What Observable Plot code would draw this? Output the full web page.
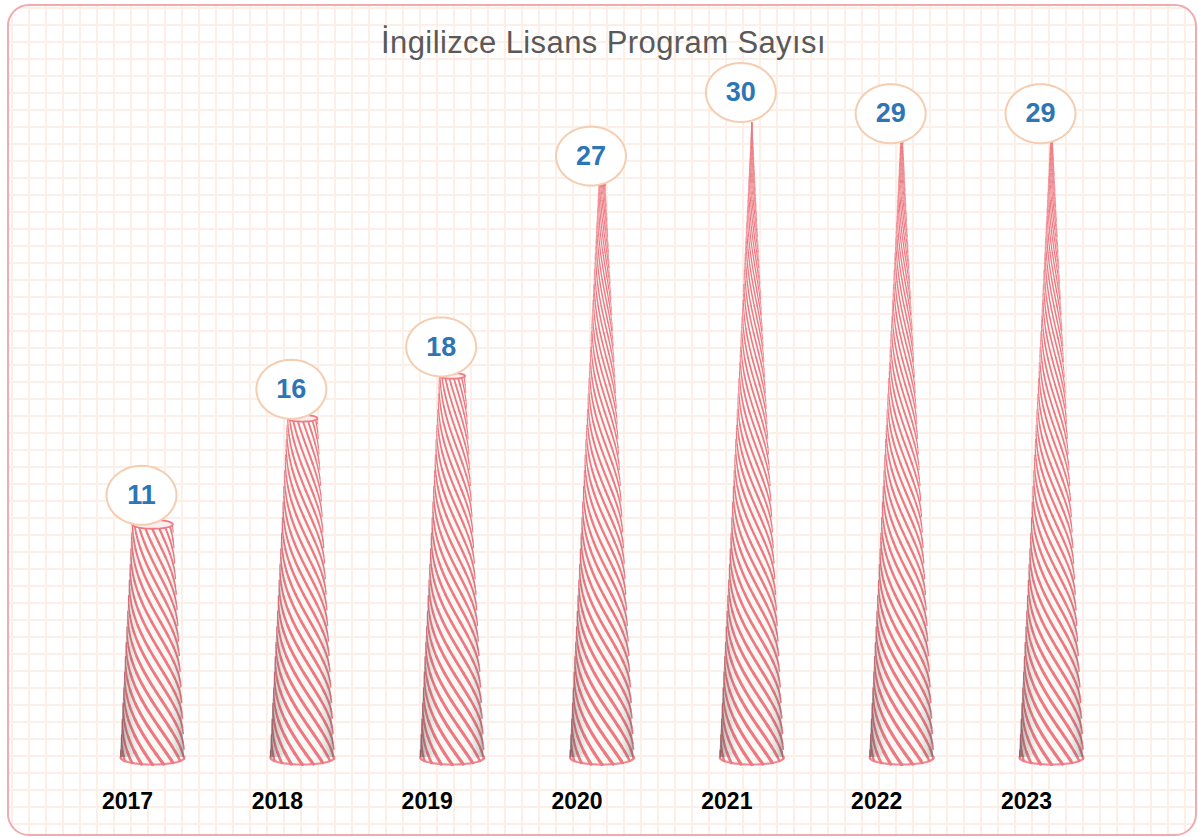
<!DOCTYPE html>
<html><head><meta charset="utf-8">
<script src="https://cdn.jsdelivr.net/npm/d3@7"></script>
<script src="https://cdn.jsdelivr.net/npm/@observablehq/plot@0.6"></script>
<style>
body{margin:0;background:#fff;font-family:"Liberation Sans",Arial,sans-serif;}
#wrap{position:relative;width:1198px;height:837px;overflow:hidden;}
#frame{position:absolute;left:7px;top:4px;width:1190px;height:832px;box-sizing:border-box;border:2px solid #f2aab1;border-radius:22px;
background-color:#fff;
background-image:linear-gradient(to right,#fcefe7 2px,transparent 2px),linear-gradient(to bottom,#fcefe7 2px,transparent 2px);
background-size:17px 17px;background-position:2px 1px;}
#title{position:relative;height:60px;box-sizing:border-box;padding-top:26px;padding-left:9px;text-align:center;font-size:31px;letter-spacing:0.4px;line-height:33px;color:#595959;white-space:nowrap;}
#chart{position:relative;}
</style></head>
<body>
<div id="wrap">
<div id="frame"></div>
<div id="title">İngilizce Lisans Program Sayısı</div>
<div id="chart"></div>
</div>
<script>
const years = [2017, 2018, 2019, 2020, 2021, 2022, 2023];
const values = [11, 16, 18, 27, 30, 29, 29];
const yearLabels = ["2017", "2018", "2019", "2020", "2021", "2022", "2023"];

const xRange = [152, 1051];
const yRange = [697, 61];
const yMax = d3.max(values);
const kx = (xRange[1] - xRange[0]) / (years[years.length - 1] - years[0]);
const ky = (yRange[0] - yRange[1]) / yMax;
const R = 32;                 // base radius, px
const flat = 0.22;            // ellipse flattening
const K = 18;                 // stripes around the cone
const twist = -0.0225;        // radians per px of height

const cone = [], baseEll = [], topEll = [], labelEll = [], stripes = [];
const N = 64;
let seg = 0;
years.forEach((yr, i) => {
  const v = values[i];
  const hPx = v * ky;
  const topR = R * (1 - v / yMax);
  cone.push({year: yr, y: 0, x1: yr - R / kx, x2: yr + R / kx});
  cone.push({year: yr, y: v, x1: yr - topR / kx, x2: yr + topR / kx});
  for (let k = 0; k < N; k++) {
    const t = 2 * Math.PI * k / N;
    baseEll.push({year: yr, x: yr + (R / kx) * Math.cos(t), y: -(R * flat / ky) * Math.sin(t)});
    if (topR > 0.05) topEll.push({year: yr, x: yr + (topR / kx) * Math.cos(t), y: v - (topR * flat / ky) * Math.sin(t)});
    labelEll.push({year: yr, x: yr + (35 / kx) * Math.cos(t), y: v + (29.5 / ky) * Math.sin(t)});
  }
  // helical stripes projected onto the visible (front) half of each cone
  for (let s = 0; s < K; s++) {
    let prev = null, prevKey = null;
    for (let h = 0; h <= hPx; h += 1.2) {
      const r = R * (1 - h / (yMax * ky));
      const phi = 2 * Math.PI * s / K + twist * h;
      const c = Math.cos(phi);
      if (c < 0) { prev = null; prevKey = null; continue; }
      const wBase = Math.max(0.6, 0.8 + 2.6 * r / R);
      const q = Math.min(4, Math.floor(c * 5));
      const w = +(wBase * (0.4 + 0.6 * (q + 0.5) / 5)).toFixed(1);
      const pt = {x: yr + r * Math.sin(phi) / kx, y: (h - flat * r * c) / ky};
      const key = w;
      if (prevKey === null || key !== prevKey) {
        seg++;
        if (prev) stripes.push({seg, w, x: prev.x, y: prev.y});
      }
      stripes.push({seg, w, x: pt.x, y: pt.y});
      prev = pt; prevKey = key;
    }
  }
});

const chart = Plot.plot({
  width: 1198,
  height: 777,
  x: {type: "linear", domain: [years[0], years[years.length - 1]], range: xRange, axis: null},
  y: {domain: [0, yMax], range: yRange, axis: null},
  style: {background: "transparent", overflow: "visible", fontFamily: "Liberation Sans, Arial, sans-serif"},
  marks: [
    Plot.line(baseEll, {x: "x", y: "y", z: "year", curve: "linear-closed", fill: "#f8f9f5", stroke: "#f08a92", strokeWidth: 2.2}),
    Plot.areaX(cone, {y: "y", x1: "x1", x2: "x2", z: "year", curve: "linear", fill: "#f8f9f5"}),
    Plot.line(stripes, {x: "x", y: "y", z: "seg", stroke: "#ee7882", strokeWidth: "w", curve: "linear"}),
    Plot.areaX(cone, {y: "y", x1: "x1", x2: "x2", z: "year", curve: "linear", fill: "url(#shade)"}),
    Plot.line(topEll, {x: "x", y: "y", z: "year", curve: "linear-closed", fill: "#fbeff0", stroke: "#ef7a85", strokeWidth: 1.8}),
    Plot.line(labelEll, {x: "x", y: "y", z: "year", curve: "linear-closed", fill: "white", stroke: "#f5cdb0", strokeWidth: 2, dx: -11, dy: -29}),
    Plot.text(years, {x: d => d, y: (d, i) => values[i], text: (d, i) => String(values[i]), dx: -11, dy: -29, fontSize: 27, fontWeight: "bold", fill: "#2e75b6"}),
    Plot.text(years, {x: d => d, y: 0, text: (d, i) => yearLabels[i], dx: -25, dy: 44, fontSize: 23, fontWeight: "bold", fill: "#000"})
  ]
});
document.getElementById("chart").appendChild(chart);

const svg = d3.select(chart);
const defs = svg.insert("defs", ":first-child");
const g = defs.append("linearGradient").attr("id", "shade").attr("x1", 0).attr("x2", 1).attr("y1", 0).attr("y2", 0);
[[0, 0.6], [0.1, 0.22], [0.28, 0], [0.78, 0], [0.92, 0.18], [1, 0.45]].forEach(([o, a]) => {
  g.append("stop").attr("offset", o).attr("stop-color", "#4a4a4a").attr("stop-opacity", a);
});
</script>
</body></html>
